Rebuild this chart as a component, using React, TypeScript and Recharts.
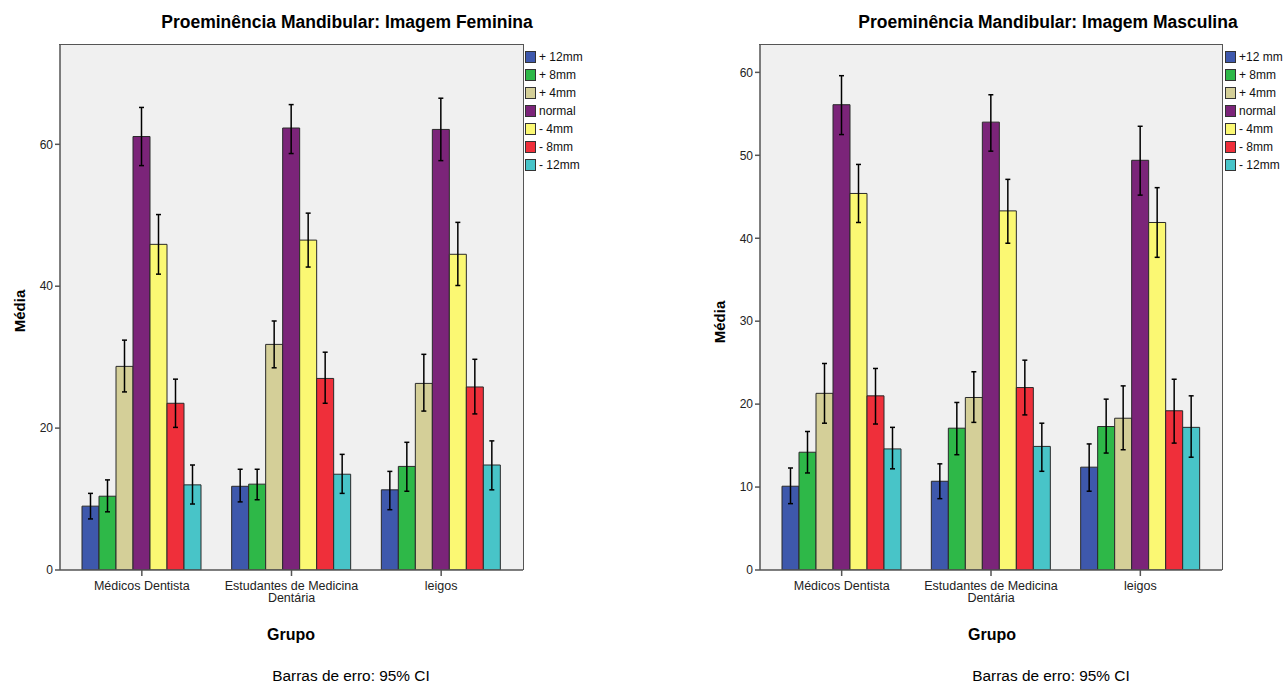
import React from 'react';
import { BarChart, Bar, XAxis, YAxis, CartesianGrid, ErrorBar } from 'recharts';

const categories = ['Médicos Dentista', 'Estudantes de Medicina Dentária', 'leigos'];
const categoryLines = [['Médicos Dentista'], ['Estudantes de Medicina', 'Dentária'], ['leigos']];

const seriesKeys = ['p12', 'p8', 'p4', 'normal', 'm4', 'm8', 'm12'];
const femLegend = ['+ 12mm', '+ 8mm', '+ 4mm', 'normal', '- 4mm', '- 8mm', '- 12mm'];
const mascLegend = ['+12 mm', '+ 8mm', '+ 4mm', 'normal', '- 4mm', '- 8mm', '- 12mm'];
const colors = ['#3E58AC', '#2EB848', '#D4CF98', '#7B2479', '#FBF873', '#EF2F3A', '#48C4C8'];

// Feminine image: mean, CI low, CI high per series (rows) and group (columns)
const femMean = [
  [9.0, 11.8, 11.3],
  [10.4, 12.1, 14.6],
  [28.7, 31.8, 26.3],
  [61.1, 62.3, 62.1],
  [45.9, 46.5, 44.5],
  [23.5, 27.0, 25.8],
  [12.0, 13.5, 14.8],
];
const femLow = [
  [7.2, 9.6, 8.5],
  [8.2, 9.9, 11.1],
  [25.1, 28.5, 22.4],
  [57.0, 58.7, 57.7],
  [41.7, 42.7, 40.1],
  [20.1, 23.5, 22.0],
  [9.3, 10.8, 11.3],
];
const femHigh = [
  [10.8, 14.2, 13.9],
  [12.7, 14.2, 18.0],
  [32.4, 35.1, 30.4],
  [65.2, 65.6, 66.5],
  [50.1, 50.3, 49.0],
  [26.9, 30.7, 29.7],
  [14.8, 16.3, 18.2],
];

// Masculine image
const mascMean = [
  [10.1, 10.7, 12.4],
  [14.2, 17.1, 17.3],
  [21.3, 20.8, 18.3],
  [56.1, 54.0, 49.4],
  [45.4, 43.3, 41.9],
  [21.0, 22.0, 19.2],
  [14.6, 14.9, 17.2],
];
const mascLow = [
  [8.0, 8.6, 9.5],
  [11.7, 13.9, 14.1],
  [17.7, 17.8, 14.5],
  [52.5, 50.5, 45.2],
  [41.9, 39.4, 37.7],
  [17.6, 18.7, 15.3],
  [12.2, 11.9, 13.6],
];
const mascHigh = [
  [12.3, 12.8, 15.2],
  [16.7, 20.2, 20.6],
  [24.9, 23.9, 22.2],
  [59.6, 57.3, 53.5],
  [48.9, 47.1, 46.1],
  [24.3, 25.3, 23.0],
  [17.2, 17.7, 21.0],
];

const femTicks = [0, 20, 40, 60];
const mascTicks = [0, 10, 20, 30, 40, 50, 60];

function buildRows(mean: number[][], low: number[][], high: number[][]) {
  return categories.map((c, gi) => {
    const row: any = { name: c, idx: gi };
    seriesKeys.forEach((k, si) => {
      row[k] = mean[si][gi];
      row[k + '_err'] = [mean[si][gi] - low[si][gi], high[si][gi] - mean[si][gi]];
    });
    return row;
  });
}

const femData = buildRows(femMean, femLow, femHigh);
const mascData = buildRows(mascMean, mascLow, mascHigh);

const FONT = '"Liberation Sans", Arial, sans-serif';
const AXIS = '#555';

const XTick = (props: any) => {
  const { x, y, payload } = props;
  const lines = categoryLines[payload.index] || [String(payload.value)];
  return (
    <text x={x} y={y + 12} textAnchor="middle" fontSize={12.5} fill="#222" fontFamily={FONT}>
      {lines.map((l: string, i: number) => (
        <tspan key={i} x={x} dy={i === 0 ? 0 : 12}>{l}</tspan>
      ))}
    </text>
  );
};

function Legend({ labels, left }: { labels: string[]; left: number }) {
  return (
    <div style={{ position: 'absolute', left, top: 48, fontFamily: FONT, fontSize: 12, color: '#111' }}>
      {labels.map((l, i) => (
        <div key={i} style={{ display: 'flex', alignItems: 'center', height: 18 }}>
          <div style={{ width: 11, height: 12, background: colors[i], border: '1px solid #333', boxSizing: 'border-box' }} />
          <span style={{ marginLeft: 3, whiteSpace: 'nowrap' }}>{l}</span>
        </div>
      ))}
    </div>
  );
}

function Panel({ data, ticks, domainMax, width, marginRight }: any) {
  return (
    <BarChart
      width={width}
      height={686}
      data={data}
      margin={{ top: 45, right: marginRight, bottom: 86, left: 20 }}
      barGap={0}
    >
      <CartesianGrid fill="#F0F0F0" horizontal={false} vertical={false} />
      <XAxis
        dataKey="name"
        height={30}
        padding={{ left: 7, right: 7 }}
        axisLine={{ stroke: AXIS, strokeWidth: 1.5 }}
        tickLine={{ stroke: AXIS, strokeWidth: 1.5 }}
        tickSize={6}
        interval={0}
        tick={<XTick />}
      />
      <YAxis
        width={40}
        domain={[0, domainMax]}
        ticks={ticks}
        allowDataOverflow
        axisLine={{ stroke: AXIS, strokeWidth: 1.5 }}
        tickLine={{ stroke: AXIS, strokeWidth: 1.5 }}
        tickSize={5}
        tick={{ fontSize: 12, fill: '#222', fontFamily: FONT }}
      />
      {seriesKeys.map((k, i) => (
        <Bar key={k} dataKey={k} fill={colors[i]} stroke="#2a2a2a" strokeWidth={1} barSize={17} isAnimationActive={false}>
          <ErrorBar dataKey={k + '_err'} width={2.5} stroke="#000" strokeWidth={1.5} direction="y" />
        </Bar>
      ))}
    </BarChart>
  );
}

const textBase: React.CSSProperties = { position: 'absolute', fontFamily: FONT, color: '#000', whiteSpace: 'nowrap', transform: 'translate(-50%, -50%)' };

const frameStyle = (left: number, width: number): React.CSSProperties => ({
  position: 'absolute', left: left - 0.75, top: 44.25, width, height: 525.5,
  borderTop: '1.5px solid ' + AXIS, borderRight: '1.5px solid ' + AXIS, pointerEvents: 'none', boxSizing: 'border-box',
});

export default function App() {
  return (
    <div style={{ position: 'absolute', left: 0, top: 0, width: 1286, height: 686, background: '#fff', overflow: 'hidden' }}>
      <div style={{ position: 'absolute', left: 0, top: 0 }}>
        <Panel data={femData} ticks={femTicks} domainMax={74} width={640} marginRight={117} />
      </div>
      <div style={{ position: 'absolute', left: 700, top: 0 }}>
        <Panel data={mascData} ticks={mascTicks} domainMax={63.3} width={586} marginRight={64} />
      </div>
      <div style={frameStyle(60, 464.5)} />
      <div style={frameStyle(760, 463.5)} />
      <Legend labels={femLegend} left={525} />
      <Legend labels={mascLegend} left={1225} />

      <div style={{ ...textBase, left: 347, top: 22, fontSize: 17.5, fontWeight: 'bold' }}>Proeminência Mandibular: Imagem Feminina</div>
      <div style={{ ...textBase, left: 1048, top: 22, fontSize: 17.5, fontWeight: 'bold' }}>Proeminência Mandibular: Imagem Masculina</div>

      <div style={{ ...textBase, left: 19, top: 311, fontSize: 15, fontWeight: 'bold', transform: 'translate(-50%, -50%) rotate(-90deg)' }}>Média</div>
      <div style={{ ...textBase, left: 719, top: 322, fontSize: 15, fontWeight: 'bold', transform: 'translate(-50%, -50%) rotate(-90deg)' }}>Média</div>

      <div style={{ ...textBase, left: 291, top: 635, fontSize: 16, fontWeight: 'bold' }}>Grupo</div>
      <div style={{ ...textBase, left: 992, top: 635, fontSize: 16, fontWeight: 'bold' }}>Grupo</div>

      <div style={{ ...textBase, left: 351, top: 676, fontSize: 15.4 }}>Barras de erro: 95% CI</div>
      <div style={{ ...textBase, left: 1051, top: 676, fontSize: 15.4 }}>Barras de erro: 95% CI</div>
    </div>
  );
}
